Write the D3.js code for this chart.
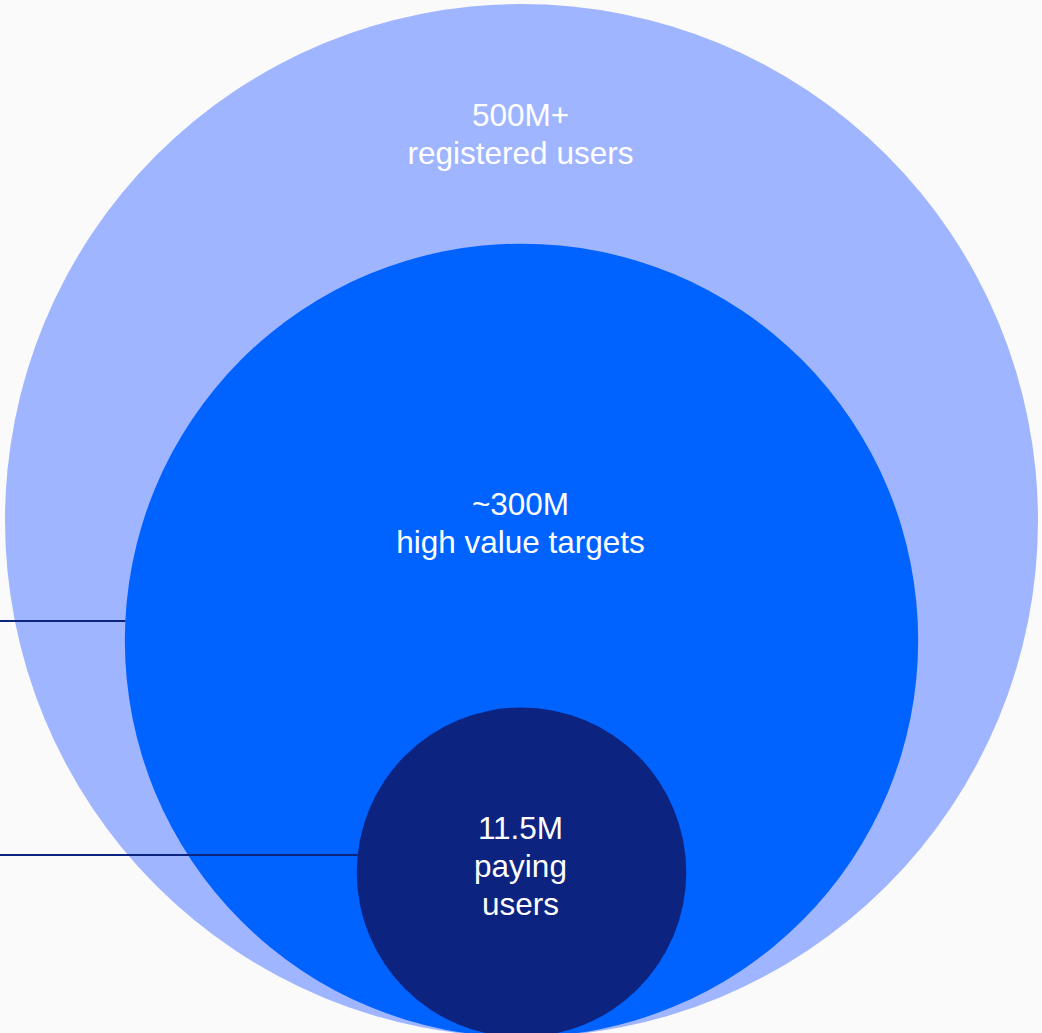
<!DOCTYPE html>
<html><head><meta charset="utf-8">
<script src="https://cdn.jsdelivr.net/npm/d3@7"></script>
<style>html,body{margin:0;padding:0;background:#fafafa;}svg{display:block;}</style>
</head><body>
<script>
const categories = ["registered users", "high value targets", "paying users"];
const values = ["500M+", "~300M", "11.5M"];
const labelLines = [["500M+", "registered users"], ["~300M", "high value targets"], ["11.5M", "paying", "users"]];
const relSize = [1.0, 0.768, 0.319]; // drawn circle size relative to outer circle
const colors = ["#a0b5ff", "#0062ff", "#0c2380"];

const W = 1042, H = 1033;
const svg = d3.select("body").append("svg").attr("width", W).attr("height", H);
svg.append("rect").attr("width", W).attr("height", H).attr("fill", "#fafafa");

const cx = 521.5, baseY = 1037, R = 516.5;
const r = d3.scaleLinear().domain([0, 1]).range([0, R]);

const data = categories.map((c, i) => ({c, v: values[i], s: relSize[i], col: colors[i], lines: labelLines[i]}));

svg.selectAll("circle.c").data(data).join("circle")
  .attr("cx", cx).attr("cy", d => baseY - r(d.s)).attr("r", d => r(d.s))
  .attr("fill", d => d.col);

// connector lines (from left edge to circle edge)
const lineDefs = [{i: 1, y: 621}, {i: 2, y: 855}];
lineDefs.forEach(l => {
  const d = data[l.i];
  const rr = r(d.s), cy = baseY - rr;
  const dx = Math.sqrt(Math.max(0, rr*rr - (l.y-cy)*(l.y-cy)));
  svg.append("line").attr("x1", 0).attr("x2", cx - dx).attr("y1", l.y).attr("y2", l.y)
    .attr("stroke", "#0c2380").attr("stroke-width", 2);
});

const labelBase = [126, 515, 839];
const lh = [38, 37.5, 38];
data.forEach((d, i) => {
  const t = svg.append("text").attr("text-anchor", "middle").attr("fill", "#ffffff")
    .style("font-family", "'Liberation Sans', Arial, sans-serif").attr("font-size", 31.5);
  d.lines.forEach((ln, j) => {
    t.append("tspan").attr("x", cx - 1).attr("y", labelBase[i] + j*lh[i]).text(ln);
  });
});
</script>
</body></html>
